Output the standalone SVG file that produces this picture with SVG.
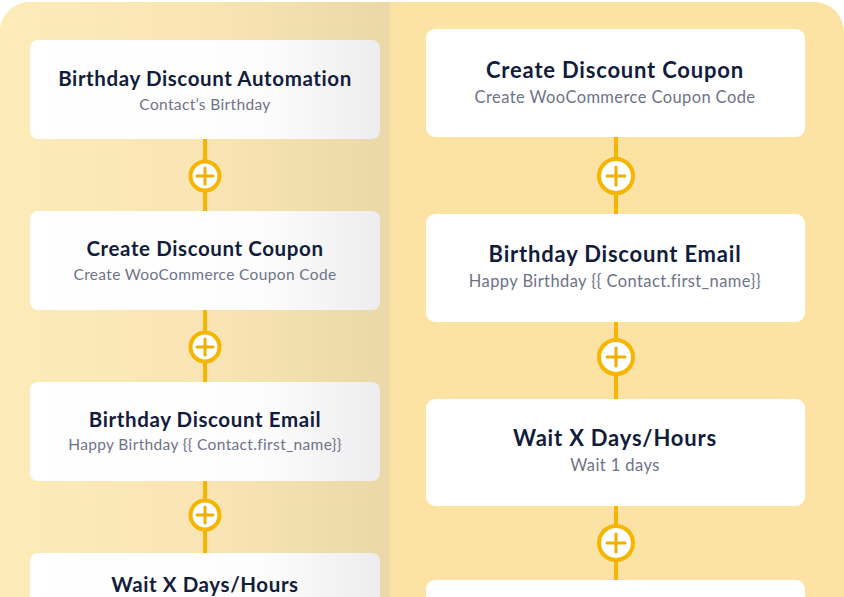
<svg xmlns="http://www.w3.org/2000/svg" width="844" height="597" viewBox="0 0 844 597">
<defs>
<linearGradient id="leftBg" x1="0" y1="0" x2="1" y2="0">
<stop offset="0" stop-color="#FDEBBA"/>
<stop offset="0.55" stop-color="#F9E5B3"/>
<stop offset="1" stop-color="#EAD8A8"/>
</linearGradient>
<linearGradient id="cardL" x1="0" y1="0" x2="1" y2="0">
<stop offset="0" stop-color="#FFFFFF"/>
<stop offset="0.65" stop-color="#FDFDFD"/>
<stop offset="1" stop-color="#EDEDEF"/>
</linearGradient>
<clipPath id="outer"><rect x="0" y="2" width="844" height="640" rx="30"/></clipPath>
</defs>
<style>
.card{fill:#FFFFFF}
.cardL{fill:url(#cardL)}
.t{font-family:Lato,"Liberation Sans",sans-serif;font-weight:700;fill:#121C3C;text-anchor:middle}
.s{font-family:Lato,"Liberation Sans",sans-serif;font-weight:400;fill:#6E7389;text-anchor:middle}
.tl{font-size:20.5px;letter-spacing:0.6px}
.sl{font-size:15.5px;letter-spacing:0.35px}
.tr{font-size:22px;letter-spacing:0.8px}
.sr{font-size:16.5px;letter-spacing:0.4px}
.line{stroke:#F6B500;stroke-width:4;fill:none}
.ring{fill:#FFFFFF;stroke:#F6B500;stroke-width:4}
.plus{stroke:#F0AE00;stroke-width:3;stroke-linecap:round}
</style>
<g clip-path="url(#outer)">
<rect x="0" y="0" width="844" height="597" fill="#FCE3A3"/>
<rect x="0" y="0" width="389" height="597" fill="url(#leftBg)"/>
<rect x="389" y="0" width="1.5" height="597" fill="#F1DCA3"/>
</g>
<g id="connectors">
<line class="line" x1="205" y1="139" x2="205" y2="211"/>
<line class="line" x1="205" y1="310" x2="205" y2="382"/>
<line class="line" x1="205" y1="481" x2="205" y2="553"/>
<line class="line" x1="616" y1="137" x2="616" y2="214"/>
<line class="line" x1="616" y1="322" x2="616" y2="399"/>
<line class="line" x1="616" y1="506" x2="616" y2="580"/>
<g id="plusL1"><circle class="ring" cx="205" cy="176" r="14.5"/><path class="plus" d="M197 176H213M205 168V184"/></g>
<g id="plusL2"><circle class="ring" cx="205" cy="347" r="14.5"/><path class="plus" d="M197 347H213M205 339V355"/></g>
<g id="plusL3"><circle class="ring" cx="205" cy="515" r="14.5"/><path class="plus" d="M197 515H213M205 507V523"/></g>
<g id="plusR1"><circle class="ring" cx="616" cy="176" r="17"/><path class="plus" d="M607 176H625M616 167V185"/></g>
<g id="plusR2"><circle class="ring" cx="616" cy="357" r="17"/><path class="plus" d="M607 357H625M616 348V366"/></g>
<g id="plusR3"><circle class="ring" cx="616" cy="543" r="17"/><path class="plus" d="M607 543H625M616 534V552"/></g>
</g>
<g id="nodeL1">
<rect class="cardL" x="30" y="40" width="350" height="99" rx="8"/>
<text class="t tl" x="205" y="86">Birthday Discount Automation</text>
<text class="s sl" x="205" y="110">Contact’s Birthday</text>
</g>
<g id="nodeL2">
<rect class="cardL" x="30" y="211" width="350" height="99" rx="8"/>
<text class="t tl" x="205" y="256">Create Discount Coupon</text>
<text class="s sl" x="205" y="280">Create WooCommerce Coupon Code</text>
</g>
<g id="nodeL3">
<rect class="cardL" x="30" y="382" width="350" height="99" rx="8"/>
<text class="t tl" x="205" y="427">Birthday Discount Email</text>
<text class="s sl" x="205" y="450">Happy Birthday {{ Contact.first_name}}</text>
</g>
<g id="nodeL4">
<rect class="cardL" x="30" y="553" width="350" height="99" rx="8"/>
<text class="t tl" x="205" y="592">Wait X Days/Hours</text>
</g>
<g id="nodeR1">
<rect class="card" x="426" y="29" width="379" height="108" rx="9"/>
<text class="t tr" x="615" y="78">Create Discount Coupon</text>
<text class="s sr" x="615" y="103">Create WooCommerce Coupon Code</text>
</g>
<g id="nodeR2">
<rect class="card" x="426" y="214" width="379" height="108" rx="9"/>
<text class="t tr" x="615" y="262">Birthday Discount Email</text>
<text class="s sr" x="615" y="287">Happy Birthday {{ Contact.first_name}}</text>
</g>
<g id="nodeR3">
<rect class="card" x="426" y="399" width="379" height="107" rx="9"/>
<text class="t tr" x="615" y="446">Wait X Days/Hours</text>
<text class="s sr" x="615" y="471">Wait 1 days</text>
</g>
<g id="nodeR4">
<rect class="card" x="426" y="580" width="379" height="108" rx="9"/>
</g>
</svg>
